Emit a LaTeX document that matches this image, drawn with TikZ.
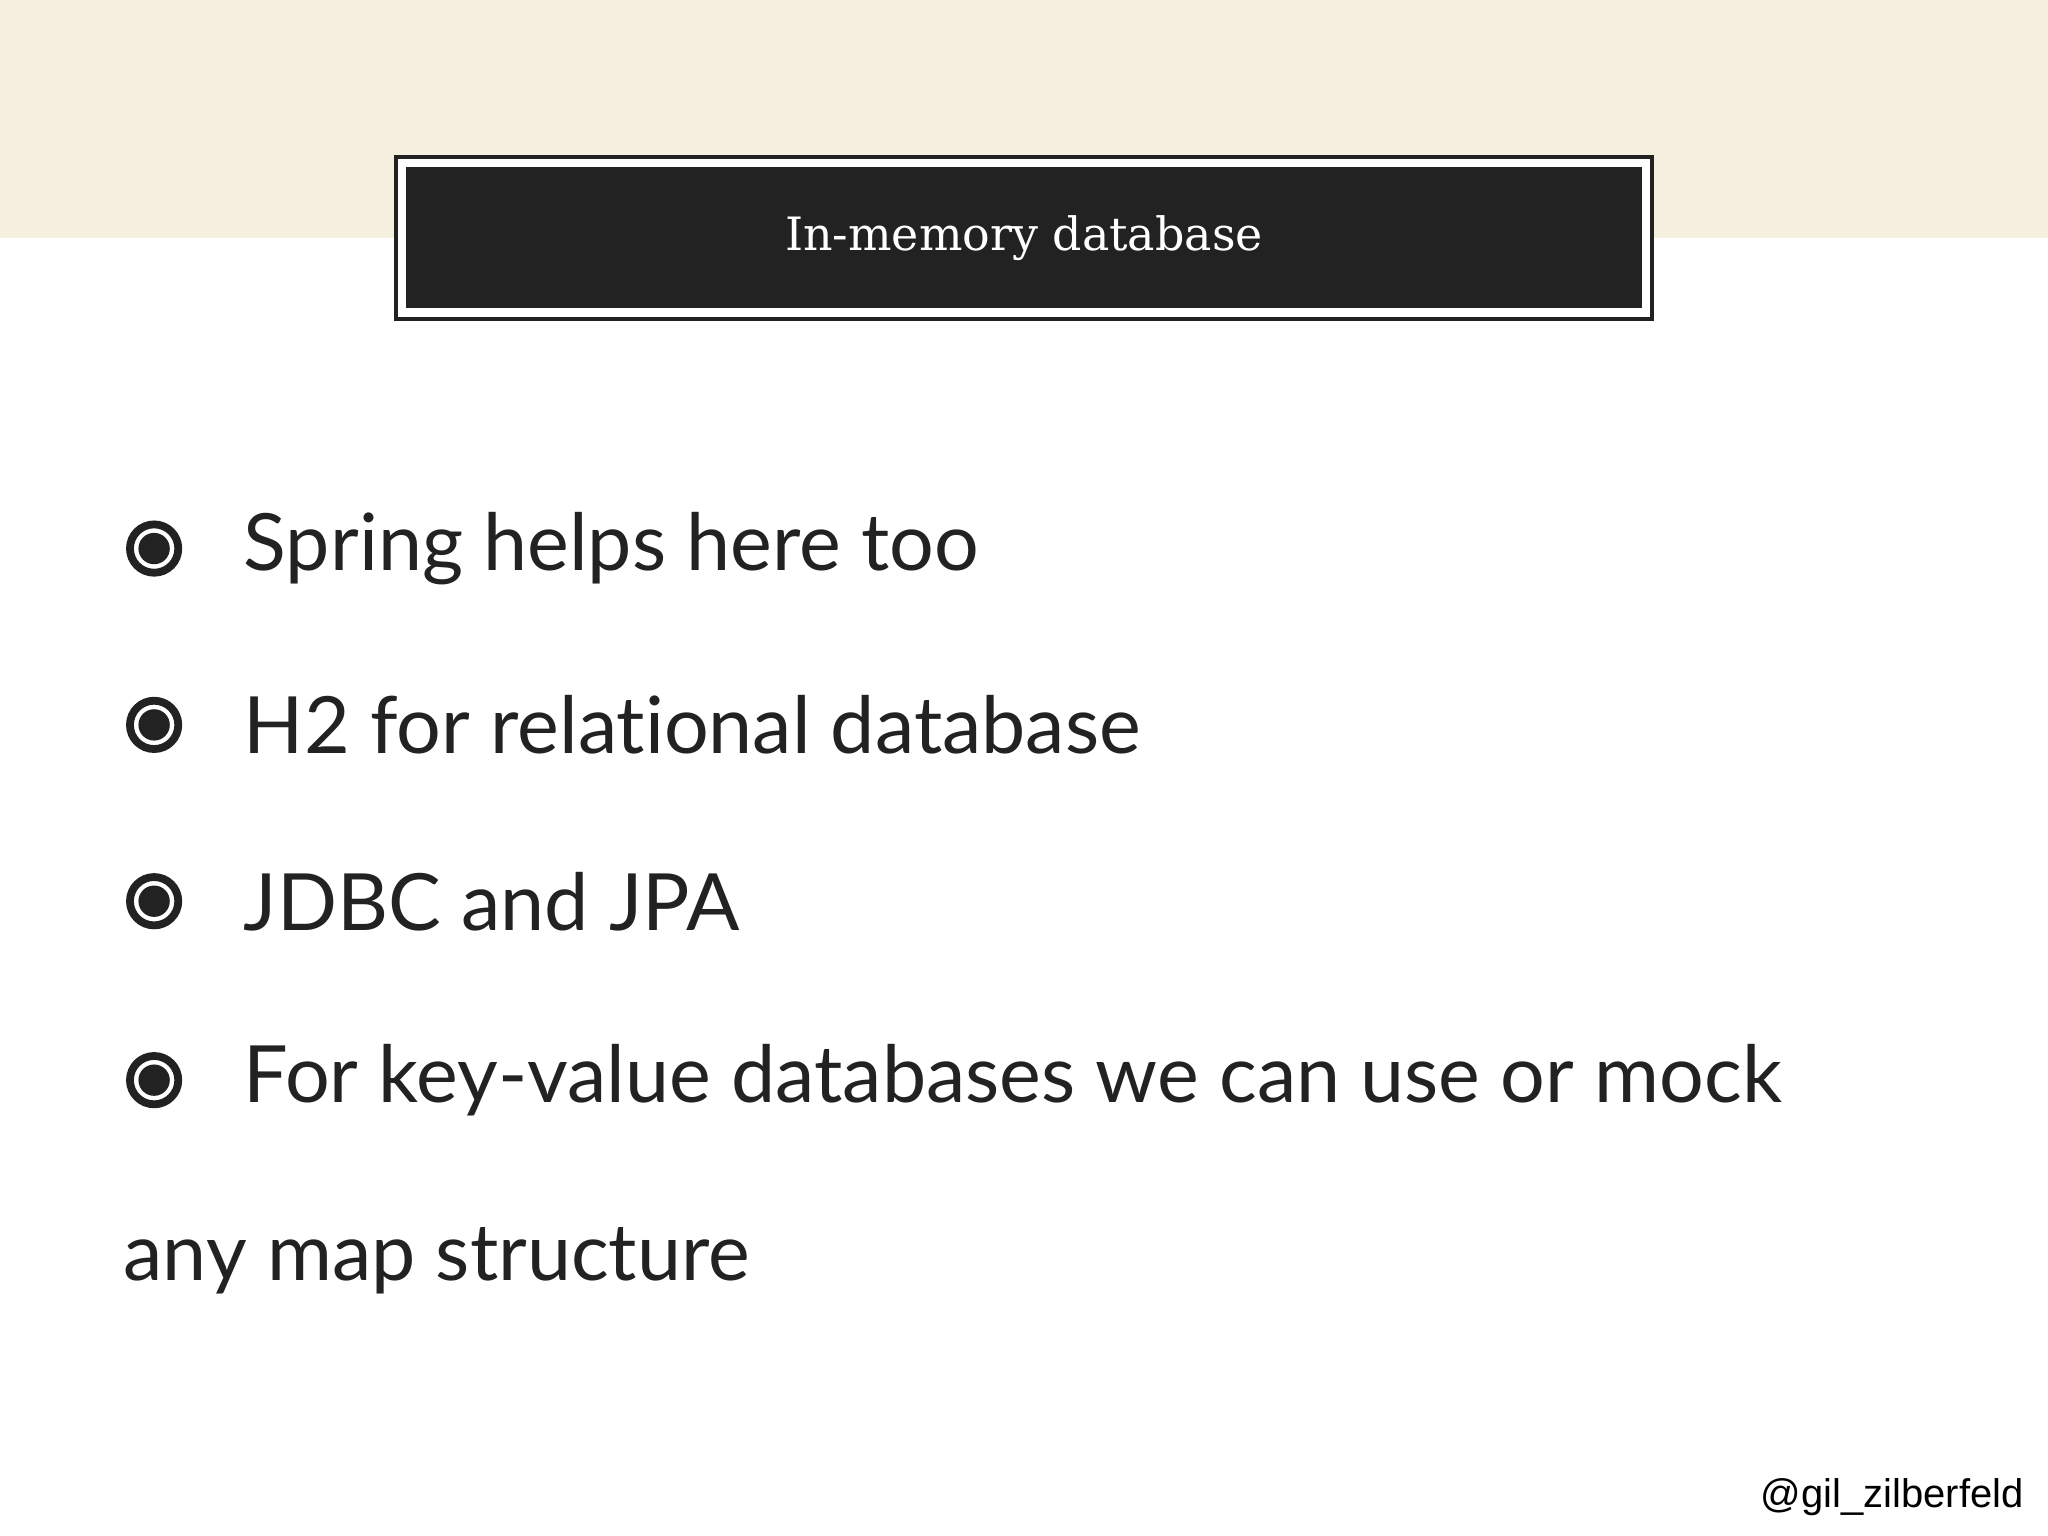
\documentclass[tikz,border=0pt]{standalone}
\usepackage{fontspec}
\setmainfont{Lato}[Ligatures=NoCommon]
\newfontfamily\titlefont{DejaVu Serif}
\newfontfamily\handlefont{Liberation Sans}
\definecolor{beige}{HTML}{F5F0E0}
\definecolor{ink}{HTML}{222222}
\tikzset{bul/.style={font=\fontsize{17.2}{21}\selectfont, text=ink, anchor=west, inner sep=0pt}}
\begin{document}
\begin{tikzpicture}[x=0.01cm,y=-0.01cm]
\useasboundingbox (0,0) rectangle (1568,1176);
\fill[white] (0,0) rectangle (1568,1176);
\fill[beige] (0,0) rectangle (1568,182);
\draw[ink,fill=white,line width=0.8pt] (303,120) rectangle (1265,244);
\fill[ink] (311,128) rectangle (1257,236);
\node[text=white,font=\titlefont\fontsize{10}{12}\selectfont] (title) at (784,182) {In-memory database};
\foreach \y/\t [count=\i] in {420/Spring helps here too, 555/H2 for relational database, 690/JDBC and JPA, 827/For key-value databases we can use or mock}{
  \draw[ink,line width=1.7pt] (118,\y) circle (18.5);
  \fill[ink] (118,\y) circle (12);
  \node[bul] (b\i) at (186,\y) {\t};
}
\node[bul] (last) at (94,965) {any map structure};
\node[font=\handlefont\fontsize{8.7}{10}\selectfont, anchor=east, inner sep=0pt] (handle) at (1550,1146) {@gil\_zilberfeld};
\end{tikzpicture}
\end{document}
